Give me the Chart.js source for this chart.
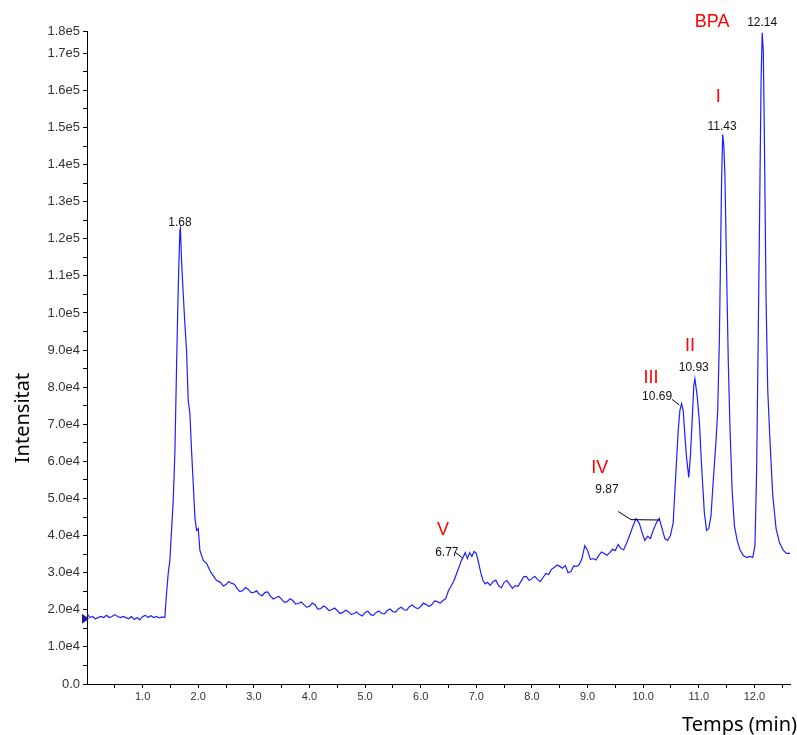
<!DOCTYPE html>
<html>
<head>
<meta charset="utf-8">
<script src="https://cdn.jsdelivr.net/npm/chart.js@4.4.1/dist/chart.umd.min.js"></script>
<style>
    html, body { margin: 0; padding: 0; background: #fff; overflow: hidden; }
    #wrap { width: 797px; height: 735px; position: relative; }
</style>
</head>
<body>
<div id="wrap"><canvas id="chrom"></canvas></div>
<script>
// retention time (min) and intensity
const times = [
    0.00, 0.05, 0.10, 0.15, 0.20, 0.25, 0.30, 0.35, 0.40, 0.45,
    0.50, 0.55, 0.60, 0.65, 0.70, 0.75, 0.80, 0.85, 0.90, 0.95,
    1.00, 1.05, 1.10, 1.15, 1.20, 1.25, 1.30, 1.35,
    // first peak (1.68)
    1.40, 1.43, 1.46, 1.49, 1.52, 1.55, 1.58, 1.61, 1.63, 1.65,
    1.67, 1.68, 1.70, 1.73, 1.76, 1.79, 1.82, 1.85, 1.88, 1.91,
    1.94, 1.97, 2.00, 2.03, 2.09, 2.15, 2.21, 2.24,
    // slow drift down then up
    2.33, 2.40, 2.45, 2.50, 2.55, 2.60, 2.65, 2.70, 2.75, 2.80,
    2.85, 2.90, 2.95, 3.00, 3.05, 3.10, 3.15, 3.20, 3.25, 3.30,
    3.35, 3.40, 3.45, 3.50, 3.55, 3.60, 3.65, 3.70, 3.75, 3.80,
    3.85, 3.90, 3.95, 4.00, 4.05, 4.10, 4.15, 4.20, 4.25, 4.30,
    4.35, 4.40, 4.45, 4.50, 4.55, 4.60, 4.65, 4.70, 4.75, 4.80,
    4.85, 4.90, 4.95, 5.00, 5.05, 5.10, 5.15, 5.20, 5.25, 5.30,
    5.35, 5.40, 5.45, 5.50, 5.55, 5.60, 5.65, 5.70, 5.75, 5.80,
    5.85, 5.90, 5.95, 6.00, 6.05, 6.10, 6.15, 6.20, 6.25, 6.30,
    6.35, 6.40,
    // peak V
    6.45, 6.50, 6.55, 6.60, 6.65, 6.70, 6.73, 6.77, 6.80, 6.84,
    6.88, 6.92, 6.96, 7.00, 7.04, 7.08,
    7.12, 7.16, 7.20, 7.25, 7.30, 7.35, 7.40, 7.45, 7.50, 7.55,
    7.60, 7.65, 7.70, 7.75, 7.80, 7.85, 7.90, 7.95, 8.00, 8.05,
    8.10, 8.15, 8.20, 8.25, 8.30, 8.35, 8.40, 8.45, 8.50, 8.55,
    8.60, 8.65, 8.70, 8.75, 8.80, 8.85, 8.90, 8.95, 9.00, 9.05,
    9.10, 9.15, 9.20, 9.25, 9.30, 9.35, 9.40, 9.45, 9.50,
    // peaks IV, III, II, I, BPA
    9.55, 9.60, 9.65, 9.70, 9.75, 9.80, 9.87,
    9.93, 9.98, 10.03, 10.08, 10.13, 10.18, 10.24, 10.29, 10.34, 10.39,
    10.44, 10.49, 10.54, 10.58, 10.63, 10.66, 10.69, 10.72, 10.75, 10.78,
    10.82, 10.85, 10.88, 10.91, 10.93, 10.97, 11.01, 11.05, 11.10, 11.14,
    11.18, 11.22, 11.26, 11.31, 11.34, 11.37, 11.39, 11.41, 11.43, 11.45,
    11.47, 11.50, 11.53, 11.56, 11.60, 11.64, 11.69, 11.74, 11.80, 11.86,
    11.92, 11.97, 12.01, 12.04, 12.07, 12.10, 12.12, 12.14, 12.16, 12.18,
    12.21, 12.24, 12.28, 12.33, 12.39, 12.45, 12.52, 12.58, 12.64
];
const intensity = [
    19000, 17900, 18200, 17600, 17900, 18200, 17900, 18500, 17900, 18200,
    18700, 18200, 17900, 18200, 17900, 17600, 18200, 17400, 17900, 17300,
    18200, 18500, 17900, 18400, 17900, 18200, 17800, 18100,
    17900, 24400, 29800, 33300, 41400, 49400, 62100, 85300, 99800, 112200,
    122200, 122800, 114100, 105200, 97100, 89900, 76400, 72900, 62900, 54000,
    44900, 41400, 41900, 36000, 33300, 32500, 30600, 29800,
    27900, 27400, 26400, 26800, 27600, 27100, 26900, 25700, 24900, 25200,
    26000, 25500, 24600, 24700, 25100, 24100, 23800, 24700, 24800, 23600,
    22900, 23300, 23600, 22800, 22000, 22200, 23000, 22500, 21600, 21700,
    22100, 21400, 20700, 20900, 21800, 21400, 20200, 20300, 21000, 20600,
    19800, 20000, 20500, 19800, 19000, 19300, 19900, 19500, 18700, 19000,
    19400, 18700, 18300, 19300, 19600, 18700, 18500, 19300, 19700, 19000,
    18900, 19800, 20200, 19500, 19400, 20300, 20700, 20000, 19900, 20900,
    21300, 20600, 20300, 20900, 21800, 21400, 20900, 21400, 22400, 22200,
    21800, 22500,
    23000, 25200, 26500, 27900, 30000, 31900, 33300, 34400, 35400, 33800,
    35400, 34400, 35700, 35200, 32700, 30000,
    27900, 27000, 27400, 26600, 27600, 28000, 26500, 25900, 27400, 27900,
    26800, 25800, 26500, 26300, 27600, 28900, 29000, 27900, 28400, 29000,
    28200, 27600, 28700, 29800, 29500, 30900, 31400, 32100, 31700, 31200,
    31900, 30000, 30300, 31800, 31700, 32200, 33800, 37300, 36000, 33600,
    33800, 33400, 34600, 35600, 35200, 34700, 35400, 36300, 36000,
    37600, 36500, 36200, 37900, 39800, 41900, 44600,
    43300, 40800, 38700, 39800, 39200, 41400, 43500, 44600, 41900, 39200,
    38700, 40000, 43500, 54800, 68300, 73700, 75600, 73700, 67000, 61000,
    55700, 61600, 70800, 80400, 82300, 77800, 70800, 58900, 46200, 41400,
    41900, 45400, 54800, 65600, 73700, 92600, 114100, 135700, 148100, 145100,
    137000, 111400, 87100, 69600, 52100, 42700, 38700, 36200, 34600, 34100,
    34400, 34100, 37300, 57500, 95300, 135700, 162600, 175500, 170700, 146500,
    103400, 79100, 65600, 50800, 41900, 38100, 36000, 35200, 35200
];

const xTickValues = [0.5, 1.0, 1.5, 2.0, 2.5, 3.0, 3.5, 4.0, 4.5, 5.0, 5.5, 6.0,
    6.5, 7.0, 7.5, 8.0, 8.5, 9.0, 9.5, 10.0, 10.5, 11.0, 11.5, 12.0, 12.5];
const yTickValues = [0, 5000, 10000, 15000, 20000, 25000, 30000, 35000, 40000, 45000,
    50000, 55000, 60000, 65000, 70000, 75000, 80000, 85000, 90000, 95000,
    100000, 105000, 110000, 115000, 120000, 125000, 130000, 135000, 140000, 145000,
    150000, 155000, 160000, 165000, 170000, 176000];
const xMax = 12.64;
const yMax = 176000;

// peak retention-time labels: text, time, intensity where the text sits
const peakLabels = [
    { text: '1.68', t: 1.67, v: 124400 },
    { text: '6.77', t: 6.47, v: 35300, leader: [6.62, 35500, 6.75, 34000] },
    { text: '9.87', t: 9.35, v: 52300, leader: [9.55, 46500, 9.78, 44300, 10.30, 44200] },
    { text: '10.69', t: 10.25, v: 77500, leader: [10.52, 76700, 10.65, 75200] },
    { text: '10.93', t: 10.91, v: 85300 },
    { text: '11.43', t: 11.42, v: 150300 },
    { text: '12.14', t: 12.14, v: 178300 }
];
// compound names
const compoundLabels = [
    { text: 'V', t: 6.40, v: 41400 },
    { text: 'IV', t: 9.22, v: 58300 },
    { text: 'III', t: 10.14, v: 82600 },
    { text: 'II', t: 10.84, v: 91200 },
    { text: 'I', t: 11.35, v: 158100 },
    { text: 'BPA', t: 11.24, v: 178300 }
];

const points = times.map((t, i) => ({ x: t, y: intensity[i] }));

function fmtY(v) {
    if (v === 0) return '0.0';
    return v.toExponential(1).replace('e+', 'e');
}

const annotPlugin = {
    id: 'annot',
    afterDatasetsDraw(chart) {
        const ctx = chart.ctx;
        const xs = chart.scales.x, ys = chart.scales.y;
        ctx.save();
        ctx.textAlign = 'center';
        ctx.textBaseline = 'middle';

        // leader lines
        ctx.strokeStyle = '#000';
        ctx.lineWidth = 1;
        peakLabels.forEach(p => {
            if (!p.leader) return;
            const l = p.leader;
            ctx.beginPath();
            ctx.moveTo(xs.getPixelForValue(l[0]), ys.getPixelForValue(l[1]));
            for (let i = 2; i < l.length; i += 2) {
                ctx.lineTo(xs.getPixelForValue(l[i]), ys.getPixelForValue(l[i + 1]));
            }
            ctx.stroke();
        });

        ctx.fillStyle = '#111';
        ctx.font = "12px 'Liberation Sans', Arial, sans-serif";
        peakLabels.forEach(p => {
            ctx.fillText(p.text, xs.getPixelForValue(p.t), ys.getPixelForValue(p.v));
        });

        ctx.fillStyle = '#ff0000';
        ctx.font = "18px 'Liberation Sans', Arial, sans-serif";
        compoundLabels.forEach(c => {
            ctx.fillText(c.text, xs.getPixelForValue(c.t), ys.getPixelForValue(c.v));
        });

        // baseline marker at the left axis
        const my = ys.getPixelForValue(17600);
        ctx.fillStyle = '#1a1a9a';
        ctx.beginPath();
        ctx.moveTo(xs.left - 5, my - 5);
        ctx.lineTo(xs.left + 2, my);
        ctx.lineTo(xs.left - 5, my + 5);
        ctx.closePath();
        ctx.fill();

        // axis titles
        ctx.fillStyle = '#000';
        ctx.font = "20px 'Noto Sans', sans-serif";
        ctx.textAlign = 'right';
        ctx.textBaseline = 'alphabetic';
        ctx.fillText('Temps (min)', chart.width, 731);
        ctx.translate(29, 418);
        ctx.rotate(-Math.PI / 2);
        ctx.textAlign = 'center';
        ctx.fillText('Intensitat', 0, 0);
        ctx.restore();
    }
};

new Chart(document.getElementById('chrom'), {
    type: 'line',
    data: {
        datasets: [{
            data: points,
            borderColor: 'rgb(30, 30, 255)',
            borderWidth: 1.2,
            pointRadius: 0,
            tension: 0,
            fill: false
        }]
    },
    options: {
        responsive: true,
        maintainAspectRatio: false,
        animation: false,
        layout: { padding: { top: 31, right: 7, left: 0, bottom: 0 } },
        plugins: {
            legend: { display: false },
            tooltip: { enabled: false }
        },
        scales: {
            x: {
                type: 'linear',
                min: 0,
                max: xMax,
                afterBuildTicks: scale => { scale.ticks = xTickValues.map(v => ({ value: v })); },
                afterFit: scale => { scale.height = 51; },
                grid: { drawOnChartArea: false, drawTicks: true, tickLength: 4, color: '#000' },
                border: { display: true, color: '#000', width: 1 },
                ticks: {
                    autoSkip: false,
                    maxRotation: 0,
                    padding: 2,
                    color: '#333',
                    font: { family: "'Liberation Sans', Arial, sans-serif", size: 11 },
                    callback: v => Number.isInteger(v) ? v.toFixed(1) : ''
                }
            },
            y: {
                min: 0,
                max: yMax,
                afterBuildTicks: scale => { scale.ticks = yTickValues.map(v => ({ value: v })); },
                afterFit: scale => { scale.width = 87; },
                grid: { drawOnChartArea: false, drawTicks: true, tickLength: 4, color: '#000' },
                border: { display: true, color: '#000', width: 1 },
                ticks: {
                    autoSkip: false,
                    padding: 3,
                    color: '#333',
                    font: { family: "'Liberation Sans', Arial, sans-serif", size: 13 },
                    callback: v => (v % 10000 === 0 || v === yMax) ? fmtY(v) : ''
                }
            }
        }
    },
    plugins: [annotPlugin]
});
</script>
</body>
</html>
